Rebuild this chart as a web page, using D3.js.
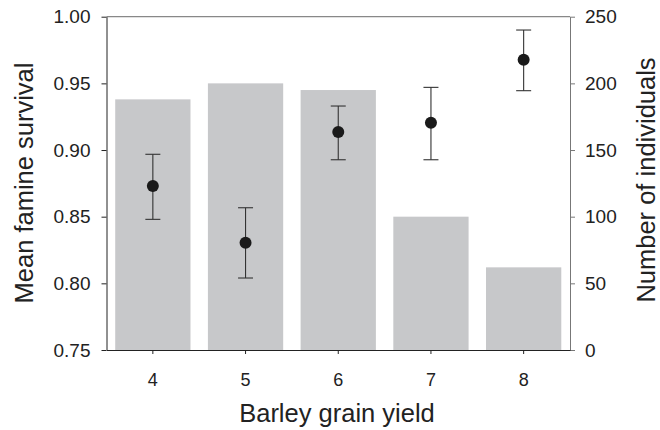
<!DOCTYPE html>
<html>
<head>
<meta charset="utf-8">
<script src="https://cdn.jsdelivr.net/npm/d3@7"></script>
<style>
  html, body { margin: 0; padding: 0; background: #fff; }
  svg { display: block; font-family: "Liberation Sans", Arial, sans-serif; }
</style>
</head>
<body>
<svg id="chart" width="660" height="430"></svg>
<script>
// ---- data ----
const categories = ["4", "5", "6", "7", "8"];
const individuals = [188, 200, 195, 100, 62];
const survivalMean = [0.873, 0.8305, 0.9135, 0.9205, 0.9677];
const survivalLow = [0.848, 0.804, 0.8927, 0.8927, 0.9445];
const survivalHigh = [0.8968, 0.8567, 0.933, 0.947, 0.990];
const leftTicks = [0.75, 0.80, 0.85, 0.90, 0.95, 1.00];
const rightTicks = [0, 50, 100, 150, 200, 250];

const svg = d3.select("#chart");
const L = 106.5, R = 570, T = 16.7, B = 350;

const x = d3.scaleBand().domain(categories).range([L, R])
  .paddingInner(0.188).paddingOuter(0.094);
const yL = d3.scaleLinear().domain([0.75, 1.00]).range([B, T]);
const yR = d3.scaleLinear().domain([0, 250]).range([B, T]);

const textColor = "#222";

// bars
svg.append("g").selectAll("rect").data(categories).join("rect")
  .attr("x", d => x(d))
  .attr("width", x.bandwidth())
  .attr("y", (d, i) => yR(individuals[i]))
  .attr("height", (d, i) => B - yR(individuals[i]))
  .attr("fill", "#c7c8ca");

// top border
svg.append("line").attr("x1", L).attr("x2", R).attr("y1", T).attr("y2", T)
  .attr("stroke", "#888").attr("stroke-width", 1.3);

// left axis
const gL = svg.append("g").attr("transform", `translate(${L},0)`)
  .call(d3.axisLeft(yL).tickValues(leftTicks).tickFormat(d3.format(".2f"))
    .tickSizeInner(5).tickSizeOuter(0).tickPadding(11));
gL.select(".domain").attr("stroke", "#222");
gL.selectAll(".tick line").attr("stroke", "#222");
gL.selectAll("text").attr("font-size", 19).attr("fill", textColor)
  .attr("font-family", "Liberation Sans, Arial, sans-serif");

// right axis
const gR = svg.append("g").attr("transform", `translate(${R},0)`)
  .call(d3.axisRight(yR).tickValues(rightTicks)
    .tickSizeInner(5).tickSizeOuter(0).tickPadding(10));
gR.select(".domain").attr("stroke", "#777");
gR.selectAll(".tick line").attr("stroke", "#777");
gR.selectAll("text").attr("font-size", 19).attr("fill", textColor)
  .attr("font-family", "Liberation Sans, Arial, sans-serif");

// bottom axis
const gB = svg.append("g").attr("transform", `translate(0,${B})`)
  .call(d3.axisBottom(x).tickSizeInner(4).tickSizeOuter(0).tickPadding(19));
gB.select(".domain").attr("stroke", "#222");
gB.selectAll(".tick line").attr("stroke", "#222");
gB.selectAll("text").attr("font-size", 18).attr("fill", textColor)
  .attr("font-family", "Liberation Sans, Arial, sans-serif");

// error bars
const cx = d => x(d) + x.bandwidth() / 2;
const eg = svg.append("g").attr("stroke", "#333").attr("stroke-width", 1.1);
eg.selectAll("line.v").data(categories).join("line").attr("class", "v")
  .attr("x1", cx).attr("x2", cx)
  .attr("y1", (d, i) => yL(survivalLow[i]))
  .attr("y2", (d, i) => yL(survivalHigh[i]));
eg.selectAll("line.capH").data(categories).join("line").attr("class", "capH")
  .attr("x1", d => cx(d) - 7.5).attr("x2", d => cx(d) + 7.5)
  .attr("y1", (d, i) => yL(survivalHigh[i])).attr("y2", (d, i) => yL(survivalHigh[i]));
eg.selectAll("line.capL").data(categories).join("line").attr("class", "capL")
  .attr("x1", d => cx(d) - 7.5).attr("x2", d => cx(d) + 7.5)
  .attr("y1", (d, i) => yL(survivalLow[i])).attr("y2", (d, i) => yL(survivalLow[i]));

// points
svg.append("g").selectAll("circle").data(categories).join("circle")
  .attr("cx", cx)
  .attr("cy", (d, i) => yL(survivalMean[i]))
  .attr("r", 6)
  .attr("fill", "#1a1a1a");

// axis titles
svg.append("text").attr("x", 337).attr("y", 422)
  .attr("text-anchor", "middle").attr("font-size", 25.5).attr("fill", textColor)
  .text("Barley grain yield");
svg.append("text").attr("transform", "translate(33,183) rotate(-90)")
  .attr("text-anchor", "middle").attr("font-size", 25.5).attr("fill", textColor)
  .text("Mean famine survival");
svg.append("text").attr("transform", "translate(655,180) rotate(-90)")
  .attr("text-anchor", "middle").attr("font-size", 25.5).attr("fill", textColor)
  .text("Number of individuals");
</script>
</body>
</html>
